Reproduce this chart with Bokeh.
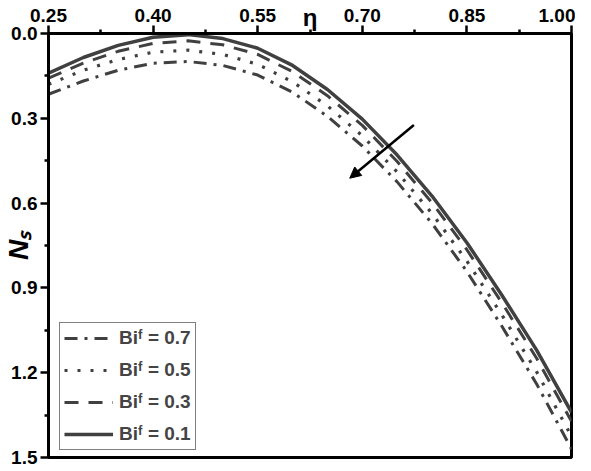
from bokeh.plotting import figure
from bokeh.models import (Range1d, FixedTicker, Legend, LegendItem, Arrow,
                          NormalHead)
from bokeh.embed import file_html
from bokeh.resources import INLINE

# ---- data ----
eta = [0.25, 0.30, 0.35, 0.40, 0.45, 0.50, 0.55, 0.60,
       0.65, 0.70, 0.75, 0.80, 0.85, 0.90, 0.95, 1.00]
ns_bi01 = [0.140, 0.085, 0.042, 0.013, 0.004, 0.018, 0.052, 0.113,
           0.198, 0.303, 0.430, 0.575, 0.740, 0.925, 1.120, 1.340]
ns_bi03 = [0.158, 0.105, 0.063, 0.035, 0.026, 0.040, 0.074, 0.135,
           0.220, 0.325, 0.453, 0.599, 0.765, 0.952, 1.149, 1.372]
ns_bi05 = [0.180, 0.130, 0.092, 0.066, 0.059, 0.074, 0.109, 0.171,
           0.256, 0.362, 0.490, 0.637, 0.805, 0.995, 1.197, 1.425]
ns_bi07 = [0.215, 0.168, 0.130, 0.105, 0.099, 0.113, 0.147, 0.208,
           0.293, 0.398, 0.525, 0.672, 0.842, 1.035, 1.240, 1.470]
bi_values = ["0.7", "0.5", "0.3", "0.1"]
x_ticks = [0.25, 0.40, 0.55, 0.70, 0.85, 1.00]
x_tick_labels = ["0.25", "0.40", "0.55", "0.70", "0.85", "1.00"]
y_ticks = [0.0, 0.3, 0.6, 0.9, 1.2, 1.5]
y_tick_labels = ["0.0", "0.3", "0.6", "0.9", "1.2", "1.5"]
arrow_start = (0.774, 0.324)
arrow_end = (0.682, 0.512)
x_label = "η"
y_label = "Nₛ"

FONT = "Liberation Sans"
LINE_COLOR = "#404040"

p = figure(width=575, height=471, output_backend="svg", toolbar_location=None,
           x_range=Range1d(x_ticks[0], x_ticks[-1]),
           y_range=Range1d(y_ticks[-1], y_ticks[0]),
           x_axis_location="above",
           min_border_left=43, min_border_right=4,
           min_border_top=33, min_border_bottom=14)
p.xgrid.visible = False
p.ygrid.visible = False
p.background_fill_color = "white"
p.border_fill_color = "white"
p.outline_line_color = "black"
p.outline_line_width = 3

x_minor = [(a + b) / 2 for a, b in zip(x_ticks[:-1], x_ticks[1:])]
y_minor = [(a + b) / 2 for a, b in zip(y_ticks[:-1], y_ticks[1:])]
p.xaxis.ticker = FixedTicker(ticks=x_ticks, minor_ticks=x_minor)
p.yaxis.ticker = FixedTicker(ticks=y_ticks, minor_ticks=y_minor)
p.xaxis.major_label_overrides = dict(zip(x_ticks, x_tick_labels))
p.yaxis.major_label_overrides = dict(zip(y_ticks, y_tick_labels))

for ax in (p.xaxis, p.yaxis):
    ax.axis_line_width = 3
    ax.axis_line_color = "black"
    ax.major_tick_line_width = 2.5
    ax.minor_tick_line_width = 2.5
    ax.major_tick_in = 0
    ax.major_tick_out = 8
    ax.minor_tick_in = 0
    ax.minor_tick_out = 4
    ax.major_label_text_font = FONT
    ax.major_label_text_font_style = "bold"
    ax.major_label_text_font_size = "19px"
    ax.major_label_text_color = "black"
    ax.axis_label_text_font = FONT
    ax.axis_label_text_color = "black"
p.xaxis.major_label_standoff = 4
p.yaxis.major_label_standoff = 3

p.xaxis.axis_label = x_label
p.xaxis.axis_label_text_font_style = "bold"
p.xaxis.axis_label_text_font_size = "24px"
p.xaxis.axis_label_standoff = -25

p.yaxis.axis_label = y_label
p.yaxis.axis_label_text_font_style = "bold italic"
p.yaxis.axis_label_text_font_size = "28px"
p.yaxis.axis_label_standoff = -26

r7 = p.line(eta, ns_bi07, line_color=LINE_COLOR, line_width=3, line_dash="13 7 3 7")
r5 = p.line(eta, ns_bi05, line_color=LINE_COLOR, line_width=3.2, line_dash="3 10")
r3 = p.line(eta, ns_bi03, line_color=LINE_COLOR, line_width=3, line_dash="14 10")
r1 = p.line(eta, ns_bi01, line_color=LINE_COLOR, line_width=3.5)

items = [LegendItem(label="Biᶠ = " + v, renderers=[r]) for v, r in
         zip(bi_values, [r7, r5, r3, r1])]
legend = Legend(items=items, location=(11, 7))
legend.border_line_color = "black"
legend.border_line_width = 1.2
legend.background_fill_color = "white"
legend.background_fill_alpha = 1
legend.label_text_font = FONT
legend.label_text_font_style = "bold"
legend.label_text_font_size = "19px"
legend.glyph_width = 49
legend.glyph_height = 20
legend.label_standoff = 6
legend.spacing = 10
legend.padding = 4
legend.margin = 0
p.add_layout(legend)

p.add_layout(Arrow(end=NormalHead(size=11, fill_color="black", line_color="black"),
                   x_start=arrow_start[0], y_start=arrow_start[1],
                   x_end=arrow_end[0], y_end=arrow_end[1],
                   line_color="black", line_width=2.5))

open("out.html", "w").write(file_html(p, INLINE))
